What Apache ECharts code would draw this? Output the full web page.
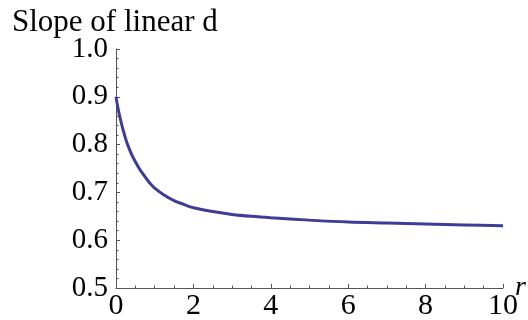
<!DOCTYPE html>
<html>
<head>
<meta charset="utf-8">
<script src="https://cdn.jsdelivr.net/npm/echarts@6/dist/echarts.min.js"></script>
<style>
  html, body { margin: 0; padding: 0; background: #fff; }
  #chart { width: 528px; height: 320px; }
</style>
</head>
<body>
<div id="chart"></div>
<script>
// r values and the slope of the linear fit at each r
const rValues = [0, 0.025, 0.05, 0.075, 0.1, 0.15, 0.2, 0.25, 0.3, 0.4, 0.5, 0.6, 0.7, 0.8, 0.9, 1.0, 1.25, 1.5, 1.75, 2.0, 2.5, 3.0, 3.5, 4.0, 5.0, 6.0, 7.0, 8.0, 9.0, 10.0];
const slopeValues = [0.900, 0.888, 0.877, 0.867, 0.858, 0.841, 0.826, 0.812, 0.800, 0.780, 0.764, 0.750, 0.738, 0.727, 0.717, 0.709, 0.694, 0.683, 0.675, 0.668, 0.660, 0.654, 0.650, 0.647, 0.642, 0.638, 0.636, 0.634, 0.632, 0.630];

const titleText = 'Slope of linear d';
const xName = 'r';

const serif = '"Liberation Serif", "DejaVu Serif", serif';
const axisColor = '#555';

const chart = echarts.init(document.getElementById('chart'), null, { renderer: 'canvas' });

chart.setOption({
  animation: false,
  title: {
    text: titleText,
    left: 7,
    top: 2,
    textStyle: { fontFamily: serif, fontSize: 31, fontWeight: 'normal', color: '#000' }
  },
  grid: { left: 116, right: 25, top: 49, bottom: 32, outerBoundsMode: 'none', containLabel: false },
  xAxis: {
    type: 'value',
    min: 0,
    max: 10,
    interval: 2,
    name: xName,
    nameLocation: 'end',
    nameGap: 12,
    nameMoveOverlap: false,
    nameTextStyle: { fontFamily: serif, fontSize: 28, fontStyle: 'italic', color: '#000', verticalAlign: 'middle', padding: [0, 0, 4, 0] },
    axisLine: { show: true, lineStyle: { color: axisColor, width: 1 } },
    axisTick: { show: true, inside: true, length: 4, lineStyle: { color: axisColor } },
    minorTick: { show: true, splitNumber: 4, length: 2.5, lineStyle: { color: axisColor } },
    splitLine: { show: false },
    axisLabel: { fontFamily: serif, fontSize: 30, color: '#000', margin: 3 }
  },
  yAxis: {
    type: 'value',
    min: 0.5,
    max: 1.0,
    interval: 0.1,
    axisLine: { show: true, lineStyle: { color: axisColor, width: 1 } },
    axisTick: { show: true, inside: true, length: 4, lineStyle: { color: axisColor } },
    minorTick: { show: true, splitNumber: 5, length: 2.5, lineStyle: { color: axisColor } },
    splitLine: { show: false },
    axisLabel: {
      fontFamily: serif, fontSize: 29, color: '#000', margin: 8,
      formatter: v => v.toFixed(1)
    }
  },
  series: [{
    type: 'line',
    data: rValues.map((r, i) => [r, slopeValues[i]]),
    smooth: 0.3,
    showSymbol: false,
    lineStyle: { color: '#3d3d99', width: 3 }
  }]
});
</script>
</body>
</html>
